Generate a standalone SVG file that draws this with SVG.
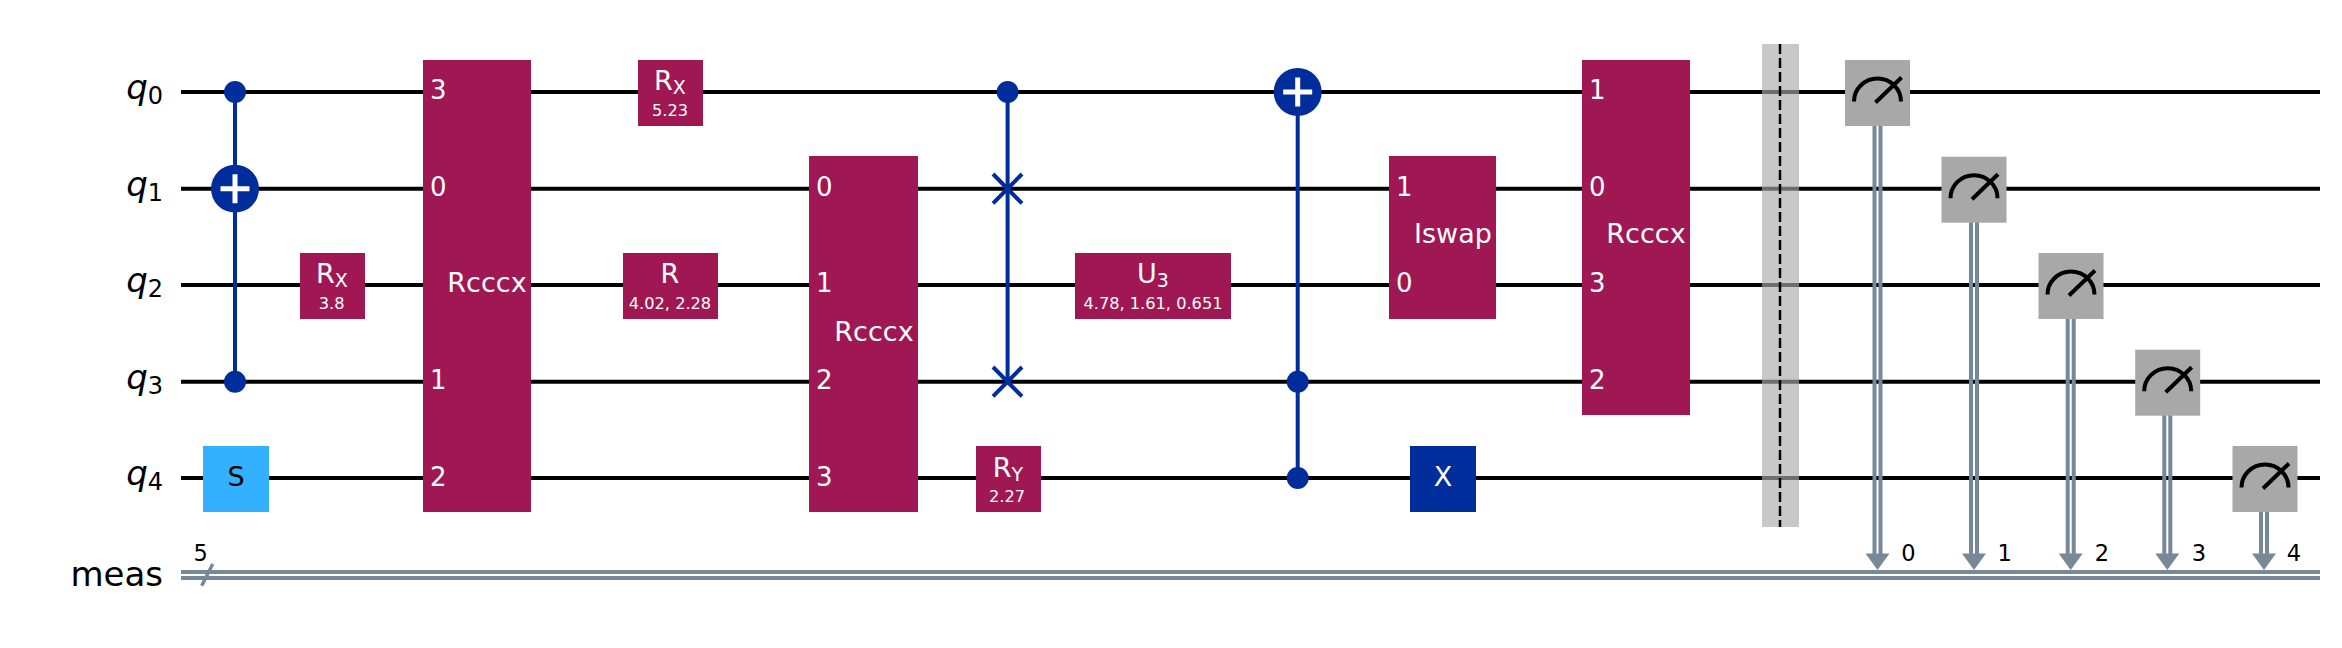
<svg xmlns="http://www.w3.org/2000/svg" width="2342" height="648" viewBox="0 0 2342 648">
<style>
text{font-family:"DejaVu Sans","Liberation Sans",sans-serif}
.w{stroke:#000;stroke-width:4;fill:none}
.c{stroke:#778899;stroke-width:4;fill:none}
.v{stroke:#002D9C;stroke-width:4;fill:none}
.p{fill:#9F1853}
.m{fill:#A8A8A8}
.b{fill:#002D9C}
.t{fill:#fff;font-size:27px;text-anchor:middle}
.s{fill:#fff;font-size:16.2px;text-anchor:middle}
.sub{font-size:19px}
.d{fill:#fff;font-size:26px;text-anchor:middle}
.q{fill:#000;font-size:34px;font-style:italic;text-anchor:end}
.qs{font-size:24px;font-style:normal}
.n{fill:#000;font-size:22.5px;text-anchor:middle}
.i{stroke:#000;stroke-width:4;fill:none}
.pl{stroke:#fff;stroke-width:5;fill:none}
</style>
<defs>
<g id="meter"><rect class="m" x="-32.5" y="-32" width="65" height="66"/><path class="i" d="M-23.5 9.5A23.5 23 0 0 1 23.5 9.5M-2 10.5L24 -14.5"/></g>
<path id="ah" fill="#778899" d="M-12 553.5H12L0 570Z"/>
</defs>
<g id="labels">
<text class="q" x="163" y="99">q<tspan class="qs" dy="5">0</tspan></text>
<text class="q" x="163" y="195.700">q<tspan class="qs" dy="5">1</tspan></text>
<text class="q" x="163" y="292">q<tspan class="qs" dy="5">2</tspan></text>
<text class="q" x="163" y="388.700">q<tspan class="qs" dy="5">3</tspan></text>
<text class="q" x="163" y="485.200">q<tspan class="qs" dy="5">4</tspan></text>
<text x="163" y="586" style="font-size:34px;text-anchor:end;fill:#000">meas</text>
<text class="n" x="200.700" y="560.700">5</text>
</g>
<g id="connectors">
<path class="w" d="M181 92H2320M181 188.700H2320M181 285H2320M181 381.700H2320M181 478H2320"/>
<path class="c" d="M181 572H2320M181 578H2320"/>
<path d="M201.700 585.700L212.700 564" stroke="#778899" stroke-width="3.500" fill="none"/>
<path class="v" d="M235 92V381.700M1007.600 92V381.700M1297.700 92V478"/>
<path class="c" d="M1874.500 126V556M1880.500 126V556M1971 222V556M1977 222V556M2067.700 319V556M2073.700 319V556M2164.300 415V556M2170.300 415V556M2261 512V556M2267 512V556"/>
<use href="#ah" x="1877.500"/><use href="#ah" x="1974"/><use href="#ah" x="2070.700"/><use href="#ah" x="2167.300"/><use href="#ah" x="2264"/>
</g>
<g id="cx1"><circle class="b" cx="235" cy="92" r="11"/><circle class="b" cx="235" cy="381.700" r="11"/><circle class="b" cx="235" cy="188.700" r="24"/><path class="pl" d="M220.500 188.700H249.500M235 174.200V203.200"/></g>
<g id="rx1"><rect class="p" x="300" y="253" width="65" height="66"/><text class="t" x="332" y="283.300">R<tspan class="sub" dy="4">X</tspan></text><text class="s" x="331.700" y="308.700">3.8</text></g>
<g id="s"><rect x="203" y="446" width="66" height="66" fill="#33B1FF"/><text class="t" x="236" y="486" style="fill:#000">S</text></g>
<g id="rcccx1"><rect class="p" x="423" y="60" width="108" height="452"/><text class="t" x="487" y="292.300">Rcccx</text><text class="d" x="438.300" y="99">3</text><text class="d" x="438.300" y="196">0</text><text class="d" x="438.300" y="389">1</text><text class="d" x="438.300" y="485.600">2</text></g>
<g id="rx2"><rect class="p" x="638" y="60" width="65" height="66"/><text class="t" x="670" y="90">R<tspan class="sub" dy="4">X</tspan></text><text class="s" x="670" y="116">5.23</text></g>
<g id="r"><rect class="p" x="623" y="253" width="95" height="66"/><text class="t" x="670" y="283.300">R</text><text class="s" x="670" y="308.700">4.02, 2.28</text></g>
<g id="rcccx2"><rect class="p" x="809" y="156" width="109" height="356"/><text class="t" x="874" y="341">Rcccx</text><text class="d" x="824.300" y="196">0</text><text class="d" x="824.300" y="292">1</text><text class="d" x="824.300" y="389">2</text><text class="d" x="824.300" y="485.600">3</text></g>
<g id="swap"><circle class="b" cx="1007.600" cy="92" r="11"/><path class="v" d="M993 174L1022 203.400M1022 174L993 203.400M993 367L1022 396.400M1022 367L993 396.400"/></g>
<g id="ry"><rect class="p" x="976" y="446" width="65" height="66"/><text class="t" x="1008" y="476.700">R<tspan class="sub" dy="4">Y</tspan></text><text class="s" x="1007" y="501.700">2.27</text></g>
<g id="u3"><rect class="p" x="1075" y="253" width="156" height="66"/><text class="t" x="1153" y="283.300">U<tspan class="sub" dy="4">3</tspan></text><text class="s" x="1153" y="308.700">4.78, 1.61, 0.651</text></g>
<g id="cx2"><circle class="b" cx="1297.700" cy="381.700" r="11"/><circle class="b" cx="1297.700" cy="478" r="11"/><circle class="b" cx="1297.700" cy="92" r="24"/><path class="pl" d="M1283.200 92H1312.200M1297.700 77.500V106.500"/></g>
<g id="iswap"><rect class="p" x="1389" y="156" width="107" height="163"/><text class="t" x="1453" y="243">Iswap</text><text class="d" x="1404.300" y="196">1</text><text class="d" x="1404.300" y="292">0</text></g>
<g id="x"><rect class="b" x="1410" y="446" width="66" height="66"/><text class="t" x="1443" y="486">X</text></g>
<g id="rcccx3"><rect class="p" x="1582" y="60" width="108" height="355"/><text class="t" x="1646" y="243">Rcccx</text><text class="d" x="1597.300" y="99">1</text><text class="d" x="1597.300" y="196">0</text><text class="d" x="1597.300" y="292">3</text><text class="d" x="1597.300" y="389">2</text></g>
<g id="barrier"><rect x="1762" y="44" width="37" height="483" fill="#aaaaaa" fill-opacity=".647"/><path d="M1780 44V527" stroke="#000" stroke-width="2.500" stroke-dasharray="10 4" fill="none"/></g>
<g id="meas0"><use href="#meter" x="1877.500" y="92"/><text class="n" x="1908.500" y="560.700">0</text></g>
<g id="meas1"><use href="#meter" x="1974" y="188.700"/><text class="n" x="2004.600" y="560.700">1</text></g>
<g id="meas2"><use href="#meter" x="2071" y="285"/><text class="n" x="2102" y="560.700">2</text></g>
<g id="meas3"><use href="#meter" x="2167.700" y="381.700"/><text class="n" x="2199" y="560.700">3</text></g>
<g id="meas4"><use href="#meter" x="2265" y="478"/><text class="n" x="2294" y="560.700">4</text></g>
</svg>
